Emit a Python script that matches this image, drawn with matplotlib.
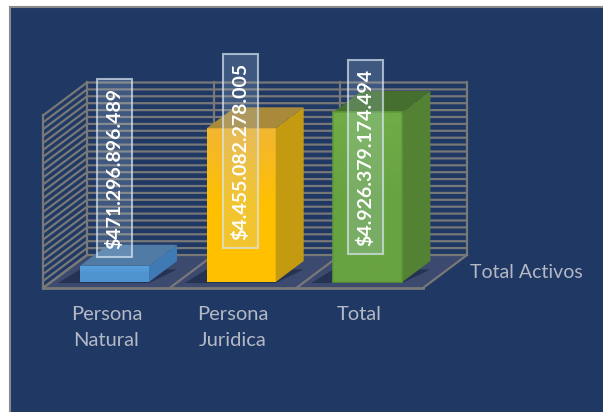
import numpy as np
import matplotlib
matplotlib.use("Agg")
from matplotlib import pyplot as plt
from matplotlib.patches import Polygon, Rectangle
from matplotlib.colors import LinearSegmentedColormap

categories = ["Persona\nNatural", "Persona\nJuridica", "Total"]
values = [471296896, 4455082278, 4926379174]
labels = ["$471.296.896.489", "$4.455.082.278.005", "$4.926.379.174.494"]
series_name = "Total Activos"

W, H = 603, 412
plt.rcParams["font.family"] = ["Lato", "DejaVu Sans"]

fig = plt.figure(figsize=(W / 100, H / 100), dpi=100, facecolor="white")

# background panel, pixel space
bg = fig.add_axes([0, 0, 1, 1])
bg.set_xlim(0, W)
bg.set_ylim(H, 0)
bg.axis("off")
bg.add_patch(Rectangle((9.5, 6.5), 620, 430, fc="#1f3864", ec="#8a8a8a", lw=1.5))

# main axes covers the front plane of the 3d box
x0, x1, y_floor, y_top = 43, 423, 288, 115.5
ax = fig.add_axes([x0 / W, 1 - y_floor / H, (x1 - x0) / W, (y_floor - y_top) / H])
ax.set_xlim(0, 3)
ax.set_ylim(0, 5e9)
ax.axis("off")
ax.patch.set_alpha(0)

px = 3 / (x1 - x0)
py = 5e9 / (y_floor - y_top)
DX, DY = 44 * px, 33 * py
GRID = "#787878"


def back(x, y, d=1.0):
    return x + d * DX, y + d * DY


# floor
ax.add_patch(Polygon([(0, 0), (3, 0), back(3, 0), back(0, 0)], fc="#3b4a6e", ec="none", clip_on=False))

# grid lines on the walls
for v in np.arange(0, 5e9 + 1, 2e8):
    bx, by = back(0, v)
    ex, ey = back(3, v)
    ax.plot([0, bx, ex], [v, by, ey], color=GRID, lw=1.6, clip_on=False, solid_capstyle="butt", zorder=1)
for i in range(4):
    bx, by = back(i, 0)
    tx, ty = back(i, 5e9)
    ax.plot([bx, tx], [by, ty], color=GRID, lw=1.6, clip_on=False, zorder=1)
    ax.plot([i, bx], [0, by], color=GRID, lw=1.6, clip_on=False, zorder=1)
ax.plot([0, 0], [0, 5e9], color=GRID, lw=1.6, clip_on=False, zorder=1)
ax.plot([0, 3], [0, 0], color=GRID, lw=2.0, clip_on=False, zorder=1)

# bars
bar_w = 69 * px
d0 = 6 / 33
bar_dx, bar_dy = 28 * px, 21 * py
bar_cols = [
    ("#5aa2e0", "#4f94d0", "#4f7ba5", "#3f7ab5"),
    ("#f2b632", "#ffc000", "#a98a3a", "#c49a10"),
    ("#70ad47", "#68a342", "#456f2e", "#548235"),
]
edge_cols = [None, None, "#5f9a3a"]


def vgrad(poly, c_top, c_mid, z):
    # fill a polygon with a vertical gradient
    xs = [p[0] for p in poly]
    ys = [p[1] for p in poly]
    cm = LinearSegmentedColormap.from_list("g", [c_mid, c_mid, c_top])
    im = ax.imshow(np.linspace(1, 0, 64)[:, None], cmap=cm, aspect="auto",
                   extent=[min(xs), max(xs), min(ys), max(ys)], zorder=z)
    im.set_clip_path(Polygon(poly, transform=ax.transData))
    im.set_clip_box(fig.bbox)  # tallest bar pokes above the axes box


for i, v in enumerate(values):
    left = i + 0.5 - bar_w / 2 + 8.2 * px
    right = left + bar_w
    by = d0 * DY
    front = [(left, by), (right, by), (right, by + v), (left, by + v)]
    side = [(right, by), (right + bar_dx, by + bar_dy), (right + bar_dx, by + v + bar_dy), (right, by + v)]
    top = [(left, by + v), (right, by + v), (right + bar_dx, by + v + bar_dy), (left + bar_dx, by + v + bar_dy)]
    shadow = [(left - 22 * px, by - 1 * py), (right, by - 1 * py), (right + bar_dx, by + bar_dy * 0.6), (left, by + bar_dy * 0.6)]
    ax.add_patch(Polygon(shadow, fc="#161f3c", ec="none", alpha=0.55, zorder=2, clip_on=False))
    c1, c2, c3, c4 = bar_cols[i]
    vgrad(front, c1, c2, 3)
    ax.add_patch(Polygon(side, fc=c4, ec="none", zorder=3, clip_on=False))
    ax.add_patch(Polygon(top, fc=c3, ec="none", zorder=3, clip_on=False))
    if edge_cols[i]:
        ax.add_patch(Polygon(front, fc="none", ec=edge_cols[i], lw=1.2, zorder=4, clip_on=False))

ax.set_xlim(0, 3)
ax.set_ylim(0, 5e9)

# value labels in pale boxes
for i, v in enumerate(values):
    lx = [114.5, 240.5, 365.5][i]
    ly = [168, 151, 157][i]
    t = fig.text(lx / W, 1 - ly / H, labels[i], rotation=90, ha="center", va="center",
                 color="white", fontsize=14, fontweight="bold", zorder=10,
                 bbox=dict(boxstyle="square,pad=0.42", fc=(0.75, 0.85, 0.95, 0.2),
                           ec=(0.85, 0.9, 0.95, 0.7), lw=1.5))

# category labels
for i, c in enumerate(categories):
    ax.text(i + 0.5, -18 * py, c, ha="center", va="top", color="#b4b8c4", fontsize=14.5,
            linespacing=1.65, clip_on=False)
ax.text(3 + 47 * px, 16 * py, series_name, ha="left", va="center", color="#b4b8c4", fontsize=14, clip_on=False)

fig.savefig("out.png", dpi=100, facecolor="white")
